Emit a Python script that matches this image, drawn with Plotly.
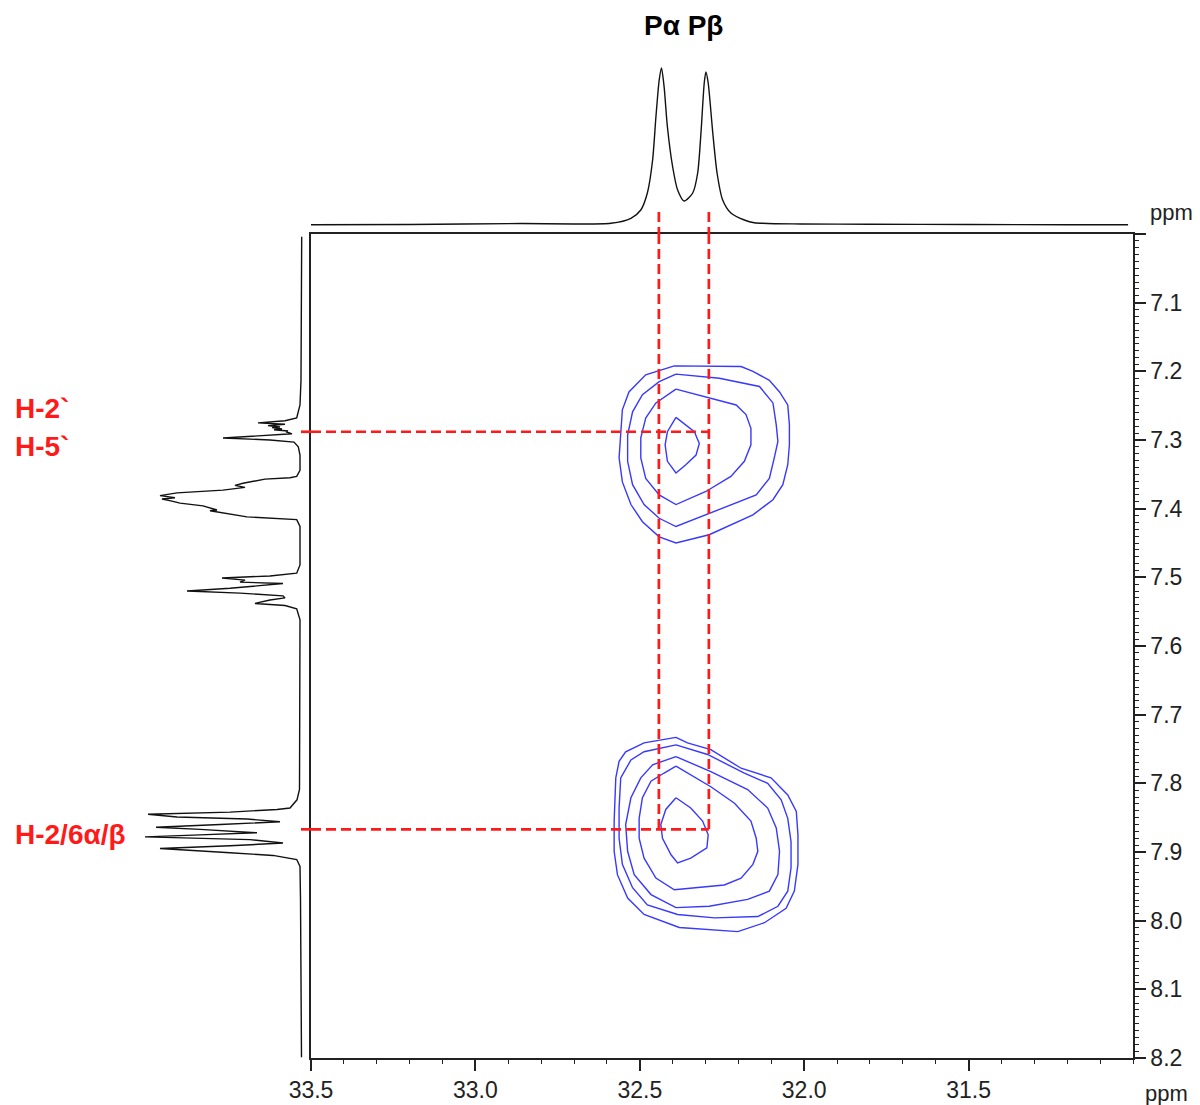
import plotly.graph_objects as go

# ---------------- data ----------------
# F1 (31P) projection on top: chemical shift (ppm) and intensity (a.u.)
TOP_PPM = [33.50, 33.20, 32.86, 32.70, 32.588, 32.527, 32.497, 32.477, 32.461, 32.451,
           32.441, 32.434, 32.426, 32.416, 32.400, 32.385, 32.365, 32.339, 32.324, 32.314,
           32.304, 32.299, 32.292, 32.278, 32.265, 32.248, 32.223, 32.182, 32.152, 32.009,
           31.80, 31.50, 31.20, 31.015]
TOP_INT = [0.3, 0.5, 1.5, 1.0, 1.7, 6.7, 15, 32, 65, 108,
           145, 157, 138, 98, 58, 35, 24, 32, 52, 92,
           142, 153, 142, 92, 52, 25, 12, 5, 2.3, 1,
           0.8, 0.5, 0.3, 0.3]

# F2 (1H) projection on the left: chemical shift (ppm) and intensity (a.u.)
LEFT_PPM = [7.004, 7.096, 7.213, 7.249, 7.261, 7.268, 7.272, 7.275, 7.277, 7.279,
            7.281, 7.282, 7.284, 7.285, 7.287, 7.288, 7.291, 7.295, 7.297, 7.300,
            7.303, 7.310, 7.322, 7.344, 7.353, 7.355, 7.357, 7.363, 7.366, 7.369,
            7.373, 7.377, 7.381, 7.384, 7.386, 7.389, 7.392, 7.396, 7.399, 7.402,
            7.403, 7.407, 7.412, 7.416, 7.426, 7.482, 7.494, 7.498, 7.501, 7.504,
            7.507, 7.509, 7.512, 7.516, 7.520, 7.523, 7.527, 7.530, 7.533, 7.538,
            7.541, 7.546, 7.562, 7.678, 7.809, 7.824, 7.836, 7.838, 7.842, 7.845,
            7.849, 7.852, 7.856, 7.860, 7.864, 7.867, 7.871, 7.872, 7.875, 7.878,
            7.882, 7.887, 7.891, 7.895, 7.901, 7.905, 7.911, 7.921, 7.969, 8.115,
            8.199]
LEFT_INT = [0.3, 0.5, 1, 2, 3.7, 5.3, 17, 44, 17, 34,
            22, 30, 20, 28, 14, 16, 10, 62, 79, 32,
            8, 3.7, 2, 2, 5.3, 12, 37, 59, 67, 57,
            79, 125, 142, 127, 140, 130, 122, 99, 92, 85,
            92, 75, 55, 5.3, 2, 2, 5.3, 32, 80, 57,
            62, 19, 40, 72, 115, 62, 19, 17, 32, 47,
            17, 5.3, 2, 2, 2.5, 5, 12, 25, 72, 154,
            125, 55, 22, 82, 146, 102, 52, 45, 102, 157,
            52, 19, 72, 142, 72, 29, 5.3, 2, 1.5, 1,
            0.5]

# 2D cross-peak contour levels: (31P ppm, 1H ppm), outermost first
UPPER_C1 = [(32.395, 7.192), (32.192, 7.193), (32.156, 7.200), (32.106, 7.213), (32.075, 7.230),
            (32.050, 7.249), (32.045, 7.278), (32.045, 7.307), (32.050, 7.336), (32.065, 7.365),
            (32.095, 7.387), (32.156, 7.409), (32.289, 7.438), (32.390, 7.450), (32.441, 7.441),
            (32.492, 7.419), (32.527, 7.394), (32.553, 7.361), (32.563, 7.326), (32.558, 7.288),
            (32.553, 7.256), (32.533, 7.230), (32.482, 7.205), (32.395, 7.192)]
UPPER_C2 = [(32.390, 7.204), (32.258, 7.210), (32.136, 7.222), (32.095, 7.246), (32.085, 7.278),
            (32.080, 7.302), (32.091, 7.326), (32.106, 7.356), (32.146, 7.380), (32.299, 7.409),
            (32.390, 7.426), (32.441, 7.414), (32.487, 7.394), (32.522, 7.365), (32.537, 7.331),
            (32.537, 7.293), (32.522, 7.259), (32.492, 7.234), (32.441, 7.215), (32.390, 7.204)]
UPPER_C3 = [(32.390, 7.226), (32.289, 7.239), (32.207, 7.249), (32.177, 7.263), (32.162, 7.283),
            (32.162, 7.307), (32.182, 7.331), (32.223, 7.353), (32.299, 7.375), (32.390, 7.394),
            (32.441, 7.380), (32.482, 7.356), (32.497, 7.326), (32.497, 7.297), (32.482, 7.268),
            (32.451, 7.246), (32.390, 7.226)]
UPPER_C4 = [(32.390, 7.267), (32.334, 7.288), (32.319, 7.305), (32.329, 7.322), (32.360, 7.336),
            (32.390, 7.348), (32.416, 7.331), (32.423, 7.307), (32.416, 7.288), (32.390, 7.267)]

LOWER_C1 = [(32.390, 7.733), (32.355, 7.741), (32.284, 7.751), (32.192, 7.778), (32.101, 7.792),
            (32.050, 7.817), (32.024, 7.841), (32.019, 7.875), (32.019, 7.918), (32.030, 7.957),
            (32.055, 7.982), (32.121, 8.003), (32.202, 8.016), (32.284, 8.013), (32.380, 8.010),
            (32.487, 7.991), (32.537, 7.967), (32.568, 7.933), (32.578, 7.899), (32.578, 7.855),
            (32.573, 7.792), (32.563, 7.768), (32.543, 7.754), (32.487, 7.741), (32.390, 7.733)]
LOWER_C2 = [(32.390, 7.744), (32.294, 7.758), (32.182, 7.785), (32.111, 7.800), (32.070, 7.824),
            (32.050, 7.851), (32.040, 7.885), (32.040, 7.923), (32.050, 7.957), (32.080, 7.979),
            (32.141, 7.994), (32.273, 7.996), (32.385, 7.991), (32.477, 7.977), (32.522, 7.952),
            (32.553, 7.918), (32.563, 7.880), (32.563, 7.836), (32.558, 7.792), (32.527, 7.766),
            (32.487, 7.754), (32.390, 7.744)]
LOWER_C3 = [(32.390, 7.761), (32.284, 7.783), (32.172, 7.809), (32.111, 7.836), (32.085, 7.865),
            (32.075, 7.899), (32.080, 7.933), (32.106, 7.957), (32.172, 7.969), (32.289, 7.979),
            (32.390, 7.981), (32.466, 7.962), (32.517, 7.933), (32.537, 7.899), (32.543, 7.860),
            (32.527, 7.821), (32.497, 7.792), (32.461, 7.773), (32.390, 7.761)]
LOWER_C4 = [(32.390, 7.775), (32.284, 7.805), (32.212, 7.829), (32.162, 7.855), (32.146, 7.880),
            (32.141, 7.899), (32.156, 7.918), (32.192, 7.938), (32.243, 7.948), (32.324, 7.952),
            (32.395, 7.955), (32.451, 7.938), (32.487, 7.909), (32.502, 7.880), (32.502, 7.851),
            (32.492, 7.821), (32.466, 7.797), (32.426, 7.785), (32.390, 7.775)]
LOWER_C5 = [(32.390, 7.821), (32.345, 7.836), (32.309, 7.855), (32.292, 7.875), (32.296, 7.894),
            (32.345, 7.909), (32.385, 7.916), (32.405, 7.904), (32.431, 7.880), (32.436, 7.860),
            (32.421, 7.838), (32.390, 7.821)]

# Correlation guide positions (ppm)
P_ALPHA, P_BETA = 32.442, 32.290
H_25, H_26 = 7.288, 7.867

X_TICKS = [33.5, 33.0, 32.5, 32.0, 31.5]
Y_TICKS = [7.0, 7.1, 7.2, 7.3, 7.4, 7.5, 7.6, 7.7, 7.8, 7.9, 8.0, 8.1, 8.2]

# ---------------- figure ----------------
W, H = 1200, 1105
FONT = 'Arial, "Liberation Sans", sans-serif'
AXC = '#222222'
BLUE = '#3838ff'
RED = '#ff1a1a'

fig = go.Figure()

for c in [UPPER_C1, UPPER_C2, UPPER_C3, UPPER_C4,
          LOWER_C1, LOWER_C2, LOWER_C3, LOWER_C4, LOWER_C5]:
    fig.add_trace(go.Scatter(x=[p[0] for p in c], y=[p[1] for p in c], mode='lines',
                             line=dict(color=BLUE, width=1.4), xaxis='x', yaxis='y',
                             hoverinfo='skip'))

fig.add_trace(go.Scatter(x=TOP_PPM, y=TOP_INT, mode='lines',
                         line=dict(color='#111', width=1.4, shape='spline', smoothing=0.7),
                         xaxis='x', yaxis='y2', hoverinfo='skip'))
fig.add_trace(go.Scatter(x=LEFT_INT, y=LEFT_PPM, mode='lines', line=dict(color='#111', width=1.4),
                         xaxis='x3', yaxis='y', hoverinfo='skip'))

dash = dict(color=RED, width=2.7, dash='10px,5px')
shapes = []
for px in (P_ALPHA, P_BETA):
    shapes.append(dict(type='line', xref='x', yref='y', x0=px, x1=px, y0=7.0, y1=H_26,
                       line=dash, layer='above'))
    shapes.append(dict(type='line', xref='x', yref='y2', x0=px, x1=px, y0=13, y1=-9,
                       line=dash, layer='above'))
for hy in (H_25, H_26):
    shapes.append(dict(type='line', xref='x', yref='y', x0=33.5, x1=P_BETA, y0=hy, y1=hy,
                       line=dash, layer='above'))
    shapes.append(dict(type='line', xref='x3', yref='y', x0=1, x1=-9, y0=hy, y1=hy,
                       line=dash, layer='above'))


def px_x(p):
    return p / W


def px_y(p):
    return 1 - p / H


def note(text, x, y, size, color, xanchor='center', bold=False):
    return dict(text=f'<b>{text}</b>' if bold else text, xref='paper', yref='paper',
                x=px_x(x), y=px_y(y), xanchor=xanchor, yanchor='middle', showarrow=False,
                font=dict(size=size, color=color, family=FONT))


fig.update_layout(
    template='none',
    width=W, height=H, margin=dict(l=0, r=0, t=0, b=0, pad=0), autosize=False,
    paper_bgcolor='white', plot_bgcolor='white', showlegend=False,
    font=dict(family=FONT, color=AXC, size=22),
    xaxis=dict(domain=[px_x(311), px_x(1133)], range=[33.5, 31.0], anchor='y',
               automargin=False,
               tickmode='array', tickvals=X_TICKS, ticktext=[f'{v:.1f}' for v in X_TICKS],
               ticks='outside', ticklen=11, tickwidth=1.5, tickcolor=AXC,
               showline=True, linecolor=AXC, linewidth=1.5, mirror=True,
               showgrid=False, zeroline=False, tickfont=dict(size=23, color=AXC),
               minor=dict(tickmode='linear', tick0=33.5, dtick=0.1, ticks='outside',
                          ticklen=4, tickwidth=1.3, tickcolor=AXC, showgrid=False)),
    yaxis=dict(domain=[px_y(1058), px_y(234)], range=[8.2, 7.0], anchor='x', side='right',
               automargin=False,
               tickmode='array', tickvals=Y_TICKS,
               ticktext=['' if v == 7.0 else f'{v:.1f}' for v in Y_TICKS],
               ticks='outside', ticklen=11, tickwidth=1.5, tickcolor=AXC,
               showline=True, linecolor=AXC, linewidth=1.5, mirror=True,
               showgrid=False, zeroline=False, tickfont=dict(size=23, color=AXC),
               minor=dict(tickmode='linear', tick0=7.0, dtick=0.01, ticks='outside',
                          ticklen=4, tickwidth=1.2, tickcolor=AXC, showgrid=False)),
    yaxis2=dict(domain=[px_y(234), px_y(55)], range=[-9, 170], anchor='x', visible=False,
                automargin=False),
    xaxis3=dict(domain=[px_x(130), px_x(311)], range=[172, -9], anchor='y', visible=False,
                automargin=False),
    shapes=shapes,
    annotations=[
        note('Pα Pβ', 683, 25, 28, '#000', bold=True),
        note('H-2`', 13, 408, 28, RED, xanchor='left', bold=True),
        note('H-5`', 13, 446, 28, RED, xanchor='left', bold=True),
        note('H-2/6α/β', 13, 834, 28, RED, xanchor='left', bold=True),
        note('ppm', 1171, 213, 22, AXC),
        note('ppm', 1166, 1093, 22, AXC),
    ],
)

fig.write_html('out.html', config={'displayModeBar': False},
               post_script="document.body.style.margin='0px';"
                           "document.body.style.overflow='hidden';")
